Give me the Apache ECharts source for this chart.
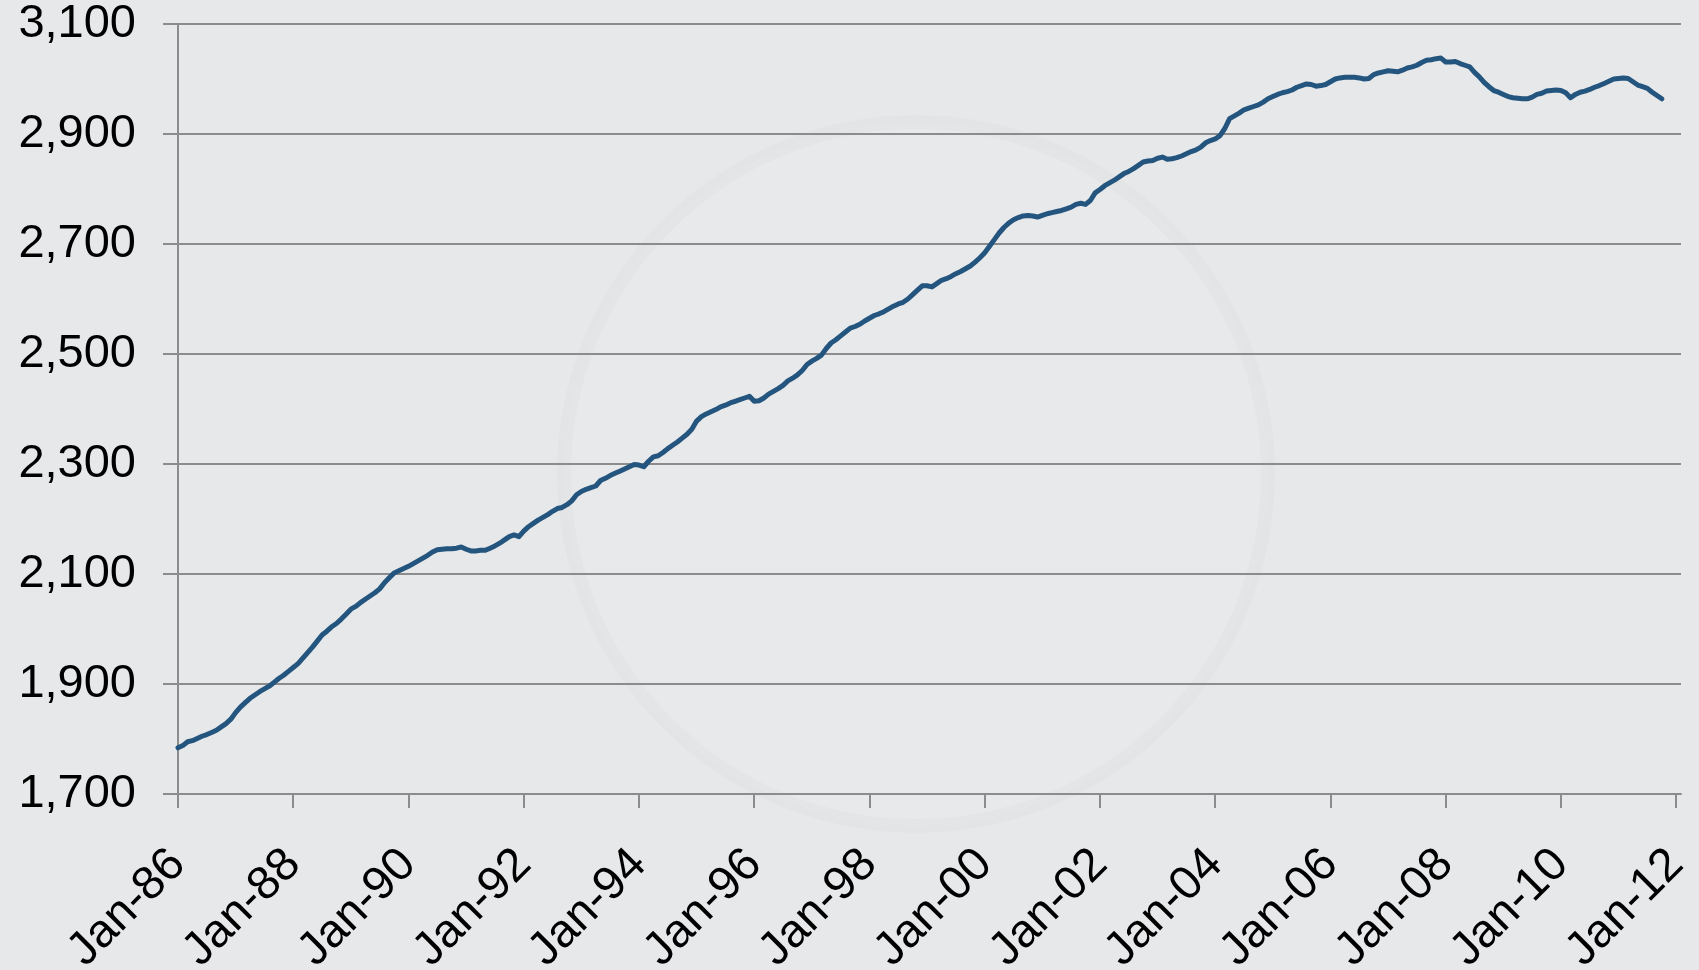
<!DOCTYPE html>
<html>
<head>
<meta charset="utf-8">
<script src="https://cdn.jsdelivr.net/npm/echarts@6/dist/echarts.min.js"></script>
<style>
    html, body {margin: 0; padding: 0; background: #e7e8ea;}
    #main {width: 1699px; height: 970px;}
</style>
</head>
<body>
<div id="main"></div>
<script>
    // monthly values, one array per year
    var y1986 = [1784, 1788, 1795, 1797, 1801, 1805, 1808, 1812, 1816, 1822, 1828, 1836];
    var y1987 = [1848, 1858, 1866, 1874, 1880, 1886, 1891, 1896, 1903, 1910, 1916, 1923];
    var y1988 = [1930, 1937, 1947, 1957, 1967, 1978, 1989, 1996, 2004, 2010, 2018, 2027];
    var y1989 = [2036, 2041, 2048, 2054, 2060, 2066, 2073, 2084, 2093, 2102, 2106, 2110];
    var y1990 = [2114, 2119, 2124, 2129, 2134, 2140, 2144, 2145, 2146, 2146, 2147, 2149];
    var y1991 = [2145, 2142, 2142, 2143, 2143, 2147, 2151, 2156, 2162, 2168, 2171, 2168];
    var y1992 = [2178, 2186, 2192, 2198, 2203, 2208, 2214, 2219, 2221, 2226, 2233, 2244];
    var y1993 = [2250, 2254, 2257, 2260, 2270, 2274, 2279, 2283, 2287, 2291, 2295, 2299];
    var y1994 = [2298, 2295, 2305, 2313, 2315, 2321, 2328, 2334, 2340, 2347, 2354, 2363];
    var y1995 = [2378, 2386, 2391, 2395, 2399, 2404, 2407, 2411, 2414, 2417, 2420, 2423];
    var y1996 = [2414, 2415, 2420, 2427, 2432, 2437, 2443, 2451, 2456, 2462, 2470, 2481];
    var y1997 = [2487, 2492, 2498, 2510, 2520, 2526, 2533, 2540, 2547, 2550, 2554, 2560];
    var y1998 = [2565, 2570, 2573, 2577, 2582, 2587, 2591, 2594, 2600, 2608, 2616, 2624];
    var y1999 = [2624, 2622, 2628, 2634, 2637, 2641, 2646, 2650, 2655, 2660, 2667, 2675];
    var y2000 = [2684, 2696, 2708, 2720, 2730, 2738, 2744, 2748, 2751, 2752, 2751, 2749];
    var y2001 = [2752, 2755, 2757, 2759, 2761, 2764, 2767, 2772, 2774, 2772, 2779, 2793];
    var y2002 = [2799, 2806, 2811, 2816, 2822, 2828, 2832, 2837, 2843, 2849, 2851, 2852];
    var y2003 = [2856, 2858, 2854, 2855, 2857, 2860, 2864, 2868, 2871, 2876, 2884, 2888];
    var y2004 = [2891, 2897, 2910, 2928, 2933, 2938, 2944, 2947, 2950, 2953, 2958, 2964];
    var y2005 = [2968, 2972, 2975, 2977, 2980, 2985, 2988, 2991, 2990, 2987, 2988, 2990];
    var y2006 = [2995, 3000, 3002, 3003, 3003, 3003, 3002, 3000, 3001, 3008, 3011, 3013];
    var y2007 = [3015, 3014, 3013, 3016, 3020, 3022, 3025, 3030, 3034, 3035, 3037, 3038];
    var y2008 = [3031, 3031, 3032, 3028, 3025, 3022, 3012, 3004, 2994, 2986, 2979, 2976];
    var y2009 = [2972, 2968, 2966, 2965, 2964, 2964, 2967, 2972, 2974, 2978, 2979, 2980];
    var y2010 = [2979, 2975, 2966, 2972, 2976, 2978, 2981, 2985, 2988, 2992, 2996, 3000];
    var y2011 = [3001, 3002, 3001, 2995, 2989, 2986, 2983, 2976, 2970, 2964];

    var values = [].concat(y1986, y1987, y1988, y1989, y1990, y1991, y1992, y1993, y1994,
        y1995, y1996, y1997, y1998, y1999, y2000, y2001, y2002, y2003, y2004, y2005,
        y2006, y2007, y2008, y2009, y2010, y2011);

    // axis runs Jan-86 .. Feb-12, labelled every two years
    var monthNames = ['Jan', 'Feb', 'Mar', 'Apr', 'May', 'Jun', 'Jul', 'Aug', 'Sep', 'Oct', 'Nov', 'Dec'];
    var firstYear = 1986, monthCount = 26 * 12 + 2;
    var months = [];
    for (var i = 0; i < monthCount; i++) {
        var yr = (firstYear + Math.floor(i / 12)) % 100;
        months.push(monthNames[i % 12] + '-' + (yr < 10 ? '0' : '') + yr);
    }
    var yTicks = {min: 1700, max: 3100, step: 200};

    var labelFont = {fontFamily: 'Liberation Sans, Arial, sans-serif', fontSize: 47, color: '#000'};
    var every2y = function (idx) {
        return idx % 24 === 0;
    };

    var charts = echarts.init(document.getElementById('main'));
    charts.setOption({
        backgroundColor: '#e7e8ea',
        animation: false,
        graphic: [
            {
                type: 'circle', silent: true, z: -1,
                shape: {cx: 916, cy: 474, r: 352},
                style: {fill: 'rgba(255,255,255,0.07)', stroke: 'rgba(0,0,0,0.014)', lineWidth: 14}
            }
        ],
        grid: {left: 178, top: 24, width: 1503, height: 770, containLabel: false, outerBoundsMode: 'none'},
        xAxis: {
            type: 'category',
            data: months,
            boundaryGap: false,
            axisLine: {lineStyle: {color: '#8c8c8c', width: 2}},
            axisTick: {interval: every2y, length: 14, lineStyle: {color: '#8c8c8c', width: 2}},
            axisLabel: Object.assign({interval: every2y, rotate: 45, margin: 63}, labelFont),
            splitLine: {show: false}
        },
        yAxis: {
            type: 'value',
            min: yTicks.min, max: yTicks.max, interval: yTicks.step,
            axisLine: {show: true, lineStyle: {color: '#8c8c8c', width: 2}},
            axisTick: {show: true, length: 15, lineStyle: {color: '#8c8c8c', width: 2}},
            axisLabel: Object.assign({
                margin: 42,
                formatter: function (v) {
                    return v.toLocaleString('en-US');
                }
            }, labelFont),
            splitLine: {lineStyle: {color: '#8c8c8c', width: 2}}
        },
        series: [
            {
                type: 'line',
                data: values,
                showSymbol: false,
                symbol: 'none',
                lineStyle: {color: '#24557f', width: 5, join: 'round', cap: 'round'}
            }
        ]
    });
</script>
</body>
</html>
